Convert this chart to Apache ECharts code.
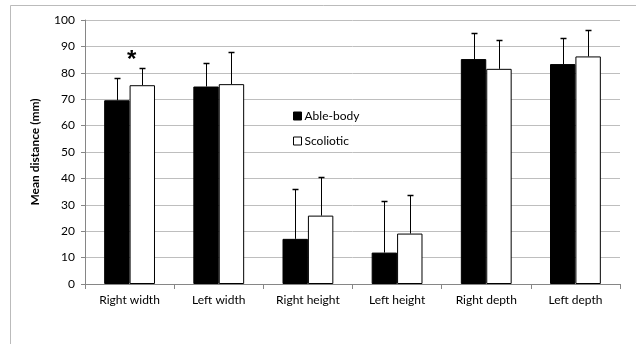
<!DOCTYPE html>
<html><head><meta charset="utf-8">
<script src="https://cdn.jsdelivr.net/npm/echarts@6/dist/echarts.min.js"></script>
<style>html,body{margin:0;padding:0;background:#fff}#c{width:636px;height:344px}</style>
</head><body><div id="c"></div>
<script>
const categories = ['Right width','Left width','Right height','Left height','Right depth','Left depth'];
const ableBody = [69.6, 74.8, 17.1, 11.9, 85.2, 83.3];
const ableBodyErrTop = [77.9, 83.8, 36.1, 31.6, 95.2, 93.2];
const scoliotic = [75.3, 75.7, 25.9, 19.1, 81.5, 86.2];
const scolioticErrTop = [81.7, 87.8, 40.6, 33.7, 92.3, 96.1];
const significance = [[0, 81.7, '*']];
const yTicks = {min: 0, max: 100, interval: 10};

const chart = echarts.init(document.getElementById('c'));
const GAP = 0.43;
function errSeries(vals, tops, side) {
  return {
    type: 'custom',
    data: vals.map((v, i) => [i, v, tops[i]]),
    z: 5,
    silent: true,
    renderItem: function (params, api) {
      const i = api.value(0);
      const base = api.coord([i, api.value(1)]);
      const top = api.coord([i, api.value(2)]);
      const cw = api.size([1, 0])[0];
      const bw = cw * (1 - GAP) / 2;
      const x = Math.round(base[0] + side * bw / 2) + 0.5;
      const ty = Math.round(top[1]) + 0.5;
      return {
        type: 'group',
        children: [
          {type: 'line', shape: {x1: x, y1: base[1], x2: x, y2: ty}, style: {stroke: '#000', lineWidth: 1}},
          {type: 'line', shape: {x1: x - 3, y1: ty, x2: x + 3, y2: ty}, style: {stroke: '#000', lineWidth: 1.5}}
        ]
      };
    }
  };
}
chart.setOption({
  animation: false,
  textStyle: {fontFamily: 'Lato'},
  grid: {left: 85, right: 16, top: 20, bottom: 60},
  legend: {
    orient: 'vertical', left: 288, top: 105, itemGap: 13,
    itemWidth: 8, itemHeight: 8, icon: 'rect',
    textStyle: {fontSize: 12, color: '#000', fontFamily: 'Lato', padding: [0,0,0,-2]},
    data: [
      {name: 'Able-body', itemStyle: {color: '#000', borderColor: '#000', borderWidth: 1}},
      {name: 'Scoliotic', itemStyle: {color: '#fff', borderColor: '#000', borderWidth: 1}}
    ]
  },
  xAxis: {
    type: 'category', data: categories,
    axisLine: {lineStyle: {color: '#868686'}},
    axisTick: {show: true, length: 5, lineStyle: {color: '#868686'}},
    axisLabel: {color: '#000', fontSize: 12, margin: 10}
  },
  yAxis: {
    type: 'value', min: yTicks.min, max: yTicks.max, interval: yTicks.interval,
    name: 'Mean distance (mm)', nameLocation: 'middle', nameGap: 44,
    nameTextStyle: {fontWeight: 'bold', fontSize: 12, color: '#000'},
    axisLine: {show: true, lineStyle: {color: '#868686'}},
    axisTick: {show: true, length: 4, lineStyle: {color: '#868686'}},
    axisLabel: {color: '#000', fontSize: 12, margin: 10},
    splitLine: {lineStyle: {color: '#BEBEBE', width: 1}}
  },
  series: [
    {name: 'Able-body', type: 'bar', data: ableBody, barGap: '0%', barCategoryGap: '43%',
     itemStyle: {color: '#000', borderColor: '#000', borderWidth: 1}},
    {name: 'Scoliotic', type: 'bar', data: scoliotic,
     itemStyle: {color: '#fff', borderColor: '#000', borderWidth: 1}},
    errSeries(ableBody, ableBodyErrTop, -1),
    errSeries(scoliotic, scolioticErrTop, 1),
    {
      type: 'custom', data: significance, z: 6, silent: true,
      renderItem: function (params, api) {
        const p = api.coord([api.value(0), api.value(1)]);
        return {type: 'text', x: p[0] + 2, y: p[1] + 4,
          style: {text: significance[params.dataIndex][2], fontSize: 24, fontWeight: 'bold', fontFamily: 'Liberation Sans', fill: '#000', align: 'center', verticalAlign: 'bottom'}};
      }
    }
  ],
  graphic: [{type: 'rect', shape: {x: 10.5, y: 5.5, width: 640, height: 350}, style: {fill: 'none', stroke: '#BBBBBB', lineWidth: 1}, silent: true}]
});
</script></body></html>
